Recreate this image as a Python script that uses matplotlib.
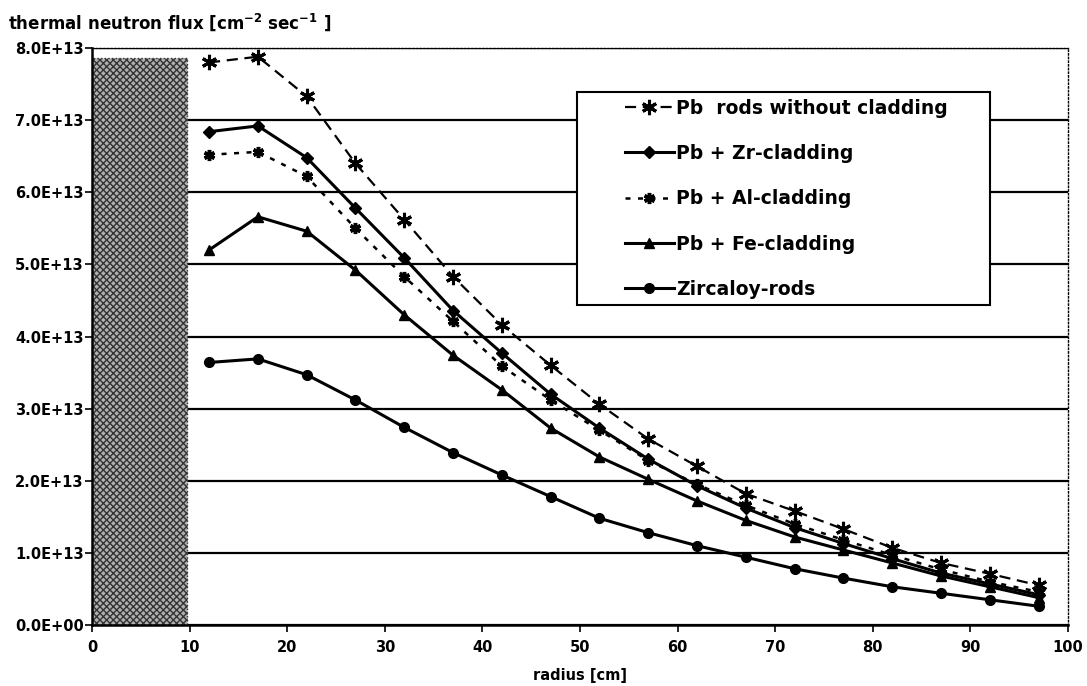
import numpy as np
import matplotlib
matplotlib.use("Agg")
import matplotlib.pyplot as plt
from matplotlib.patches import Rectangle

# radius positions [cm]
radius = [12, 17, 22, 27, 32, 37, 42, 47, 52, 57, 62, 67, 72, 77, 82, 87, 92, 97]

# thermal neutron flux, in units of 1E+13 cm^-2 sec^-1
pb_no_clad = [7.80, 7.88, 7.33, 6.40, 5.62, 4.83, 4.16, 3.60, 3.06, 2.58, 2.20, 1.82, 1.58, 1.33, 1.07, 0.86, 0.71, 0.55]
pb_zr = [6.84, 6.92, 6.48, 5.78, 5.09, 4.36, 3.77, 3.20, 2.73, 2.30, 1.93, 1.62, 1.35, 1.13, 0.92, 0.72, 0.57, 0.42]
pb_al = [6.52, 6.56, 6.22, 5.50, 4.83, 4.21, 3.59, 3.12, 2.70, 2.28, 1.95, 1.66, 1.40, 1.18, 0.97, 0.77, 0.60, 0.46]
pb_fe = [5.20, 5.66, 5.46, 4.92, 4.30, 3.74, 3.26, 2.73, 2.33, 2.02, 1.72, 1.45, 1.22, 1.04, 0.86, 0.68, 0.53, 0.38]
zircaloy = [3.64, 3.69, 3.47, 3.12, 2.74, 2.39, 2.08, 1.78, 1.48, 1.28, 1.10, 0.94, 0.78, 0.65, 0.53, 0.44, 0.35, 0.26]

labels = ["Pb  rods without cladding", "Pb + Zr-cladding", "Pb + Al-cladding",
          "Pb + Fe-cladding", "Zircaloy-rods"]

# core region (shaded block)
core_r = 9.7
core_top = 7.86e13

yticks = np.arange(0, 9) * 1e13
ytick_labels = ["%.1fE+%02d" % (v / 1e13 if v else 0.0, 13 if v else 0) for v in yticks]
xticks = np.arange(0, 101, 10)

plt.rcParams['font.family'] = ['DejaVu Sans']
plt.rcParams['font.weight'] = 'bold'
plt.rcParams['hatch.color'] = '#555555'

fig = plt.figure(figsize=(10.87, 6.86), dpi=100)
ax = fig.add_axes([0.0846, 0.0889, 0.8979, 0.8411])

ax.add_patch(Rectangle((0, 0), core_r, core_top, facecolor='#b0b0b0', edgecolor='#333333',
                       hatch='xxxxx', linewidth=1.0, linestyle=':', zorder=1))

r = np.array(radius)
s = 1e13
ax.plot(r, np.array(pb_no_clad) * s, color='black', ls=(0, (5, 3)), lw=1.6,
        marker=(6, 2, 0), ms=11, mew=2.2, label=labels[0], zorder=4)
ax.plot(r, np.array(pb_zr) * s, color='black', ls='-', lw=2.2,
        marker='D', ms=6, label=labels[1], zorder=4)
ax.plot(r, np.array(pb_al) * s, color='black', ls=(0, (2, 3)), lw=1.8,
        marker=(6, 2, 0), ms=8, mew=2.5, label=labels[2], zorder=4)
ax.plot(r, np.array(pb_fe) * s, color='black', ls='-', lw=2.2,
        marker='^', ms=7, label=labels[3], zorder=4)
ax.plot(r, np.array(zircaloy) * s, color='black', ls='-', lw=2.2,
        marker='o', ms=7, label=labels[4], zorder=4)

ax.set_xlim(0, 100)
ax.set_ylim(0, 8e13)
ax.set_xticks(xticks)
ax.set_xticklabels([str(v) for v in xticks], fontsize=10.5, fontweight='bold')
ax.set_yticks(yticks)
ax.set_yticklabels(ytick_labels, fontsize=10.5, fontweight='bold')
ax.tick_params(axis='both', direction='out', length=5, width=1.2, pad=6)
ax.tick_params(axis='y', pad=1)

ax.yaxis.grid(True, color='black', lw=1.6, zorder=0)
ax.set_axisbelow(True)
for side in ['left', 'bottom']:
    ax.spines[side].set_linewidth(1.8)
for side in ['top', 'right']:
    ax.spines[side].set_linewidth(1.0)
    ax.spines[side].set_linestyle(':')

ax.set_xlabel("radius [cm]", fontsize=10.5, fontweight='bold', labelpad=9)
fig.text(0.007, 0.968, "thermal neutron flux [cm$^{\\mathbf{-2}}$ sec$^{\\mathbf{-1}}$ ]",
         fontsize=12, fontweight='bold', ha='left', va='center')

# legend frame drawn separately so the inner left margin can be wider
ax.add_patch(Rectangle((0.497, 0.555), 0.423, 0.369, transform=ax.transAxes,
                       facecolor='white', edgecolor='black', lw=1.5, zorder=5))
leg = ax.legend(loc='upper left', bbox_to_anchor=(0.546, 0.912),
                frameon=False, prop={'size': 13.5, 'weight': 'bold'},
                handlelength=2.6, handletextpad=0.15, labelspacing=1.4, borderpad=0,
                borderaxespad=0)
leg.set_zorder(6)

fig.savefig("out.png", dpi=100)
